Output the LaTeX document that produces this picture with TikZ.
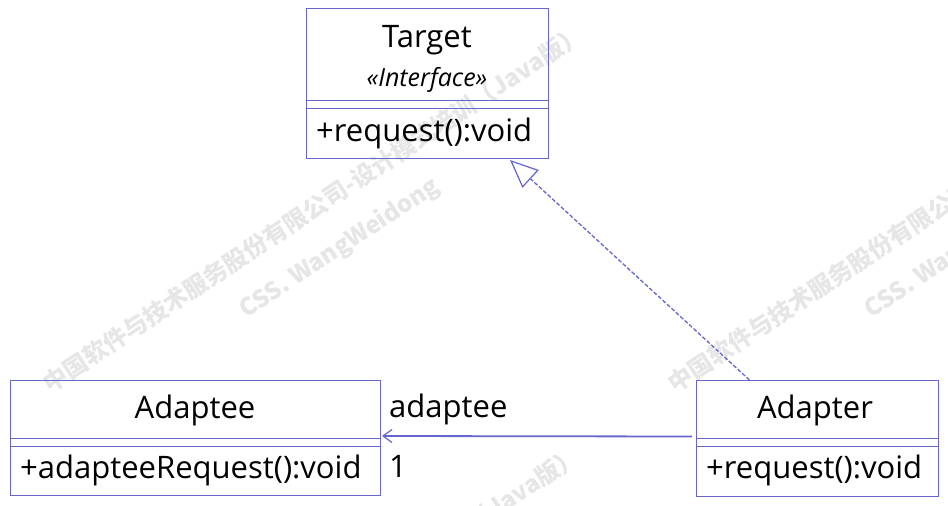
\documentclass[tikz,border=0pt]{standalone}
\usepackage{fontspec}
\setmainfont{Open Sans}
\newfontfamily\cjkwm{Noto Sans CJK SC}
\usetikzlibrary{arrows.meta}
\definecolor{umlline}{RGB}{102,102,204}
\definecolor{wmgray}{RGB}{230,230,230}
\tikzset{
  classbox/.style={draw=umlline, line width=1pt, fill=none, inner sep=0pt, anchor=north west},
  sepline/.style={draw=umlline, line width=1pt},
  cname/.style={font=\fontsize{31}{31}\selectfont, inner sep=0pt, anchor=base},
  member/.style={font=\fontsize{31}{31}\selectfont, inner sep=0pt, anchor=base west},
  stereo/.style={font=\fontsize{25}{25}\selectfont\itshape, inner sep=0pt, anchor=base},
  rolelabel/.style={font=\fontsize{31}{31}\selectfont, inner sep=0pt, anchor=base west},
  realize/.style={draw=umlline, line width=1.3pt, dash pattern=on 4pt off 2pt, -{Triangle[open, length=28pt, width=24pt, fill=white, line width=1.2pt]}},
  assoc/.style={draw=umlline, line width=1.8pt, -{Straight Barb[length=9pt, width=13pt, line width=1.2pt]}},
  watermark/.style={text=wmgray, font=\cjkwm\bfseries\fontsize{24}{46}\selectfont, align=center, rotate=33.5, inner sep=0pt}
}
\begin{document}
\begin{tikzpicture}[x=1pt,y=-1pt]
\useasboundingbox (0,0) rectangle (948,506);
\fill[white] (0,0) rectangle (948,506);
% watermarks
\node[watermark] (wm1) at (327,229) {中国软件与技术服务股份有限公司-设计模式培训（Java版）\\CSS. WangWeidong};
\node[watermark] (wm2) at (952,229) {中国软件与技术服务股份有限公司-设计模式培训（Java版）\\CSS. WangWeidong};
\node[watermark] (wm3) at (323,651) {中国软件与技术服务股份有限公司-设计模式培训（Java版）\\CSS. WangWeidong};
% Target
\node[classbox, minimum width=242pt, minimum height=150pt] (target) at (306,8) {};
\draw[sepline] (306,100) -- (548,100);
\draw[sepline] (306,108) -- (548,108);
\node[cname] (targetname) at (427,47) {Target};
\node[stereo] (targetstereo) at (427,86) {«Interface»};
\node[member] (targetop) at (316,141) {+request():void};
% Adaptee
\node[classbox, minimum width=370pt, minimum height=115pt] (adaptee) at (10,380) {};
\draw[sepline] (10,438) -- (380,438);
\draw[sepline] (10,446) -- (380,446);
\node[cname] (adapteename) at (195,418) {Adaptee};
\node[member] (adapteeop) at (20,478) {+adapteeRequest():void};
% Adapter
\node[classbox, minimum width=242pt, minimum height=116pt] (adapter) at (696,380) {};
\draw[sepline] (696,438) -- (938,438);
\draw[sepline] (696,446) -- (938,446);
\node[cname] (adaptername) at (815,418) {Adapter};
\node[member] (adapterop) at (706,478) {+request():void};
% connectors
\coordinate (realstart) at ([xshift=-68pt]adapter.north);
\coordinate (realend) at (510,160);
\draw[realize] (realstart) -- (realend);
\coordinate (assocstart) at ([xshift=-4pt,yshift=2pt]adapter.west);
\coordinate (assocend) at ([xshift=1pt,yshift=2pt]adaptee.east);
\draw[assoc] (assocstart) -- (assocend);
\node[rolelabel] (rolename) at (389,417) {adaptee};
\node[rolelabel] (mult) at (389,477) {1};
\end{tikzpicture}
\end{document}
